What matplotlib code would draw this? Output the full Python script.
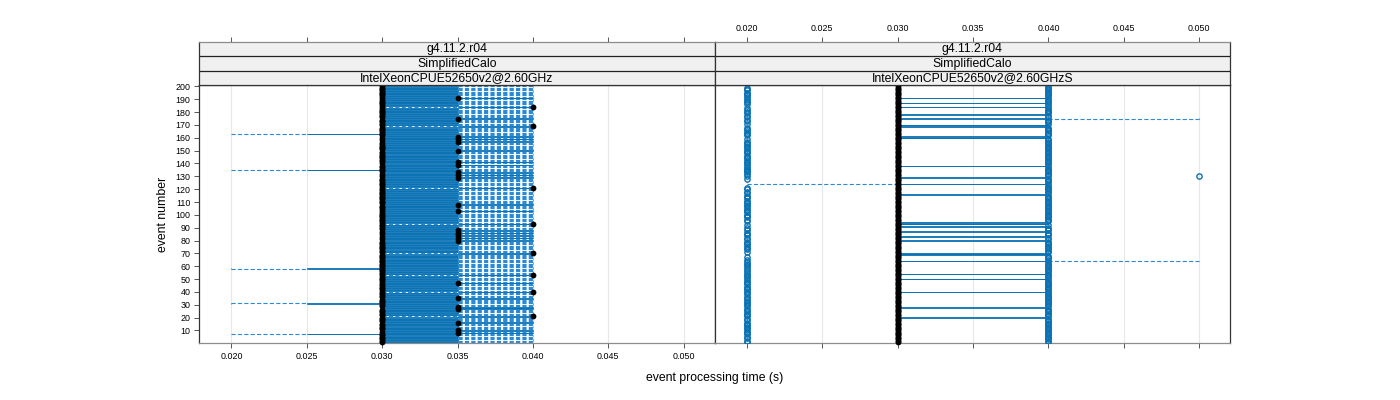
import numpy as np
import matplotlib.pyplot as plt
from matplotlib.collections import LineCollection

plt.rcParams['font.family'] = ['Liberation Sans', 'DejaVu Sans']
plt.rcParams['lines.scale_dashes'] = False

# ---- data ----
events = np.arange(1, 201)
xticks = [0.020, 0.025, 0.030, 0.035, 0.040, 0.045, 0.050]
yticks = list(range(10, 201, 10))
strip_left = ['g4.11.2.r04', 'SimplifiedCalo', 'IntelXeonCPUE52650v2@2.60GHz']
strip_right = ['g4.11.2.r04', 'SimplifiedCalo', 'IntelXeonCPUE52650v2@2.60GHzS']

# left panel: most events have median 0.030, box 0.030-0.035, whisker to 0.040
left_med_035 = [191, 175, 161, 159, 157, 150, 141, 139, 133, 131, 129, 108, 103,
                88, 86, 84, 82, 80, 47, 35, 28, 27, 16, 10, 8]
left_med_040 = [184, 169, 121, 93, 70, 53, 40, 21]
left_low_tail = [163, 135, 58, 31, 7]

# right panel: most events median 0.030 with outliers at 0.020 and 0.040
right_box = [191, 187, 184, 178, 175, 170, 169, 161, 160, 138, 129, 124, 116,
             94, 93, 91, 87, 83, 80, 70, 69, 64, 54, 50, 40, 28, 20]
right_no_020 = [200, 196, 185, 181, 172, 166, 158, 152, 147, 142, 131, 127, 126,
                125, 123, 122, 119, 112, 106, 101, 97, 89, 75, 72, 68, 66, 60,
                57, 45, 37, 33, 25, 17, 11, 6, 3]
right_whisk_low = [124]
right_whisk_high = [175, 64]
right_out_050 = [130]

BLUE = '#0a72b4'
LIGHT = '#2a8ad4'


def left_stats():
    lw = np.full(200, 0.030); q1 = np.full(200, 0.030); med = np.full(200, 0.030)
    q3 = np.full(200, 0.035); uw = np.full(200, 0.040)
    for e in left_med_035:
        med[e - 1] = 0.035; q3[e - 1] = 0.040
    for e in left_med_040:
        q1[e - 1] = 0.035; med[e - 1] = 0.040; q3[e - 1] = 0.040
    for e in left_low_tail:
        lw[e - 1] = 0.020; q1[e - 1] = 0.025
    return lw, q1, med, q3, uw, [], []


def right_stats():
    lw = np.full(200, 0.030); q1 = np.full(200, 0.030); med = np.full(200, 0.030)
    q3 = np.full(200, 0.030); uw = np.full(200, 0.030)
    ox, oy = [], []
    for e in events:
        if e in right_box:
            q3[e - 1] = 0.040; uw[e - 1] = 0.040
        else:
            ox.append(0.040); oy.append(e)
            if e not in right_no_020:
                ox.append(0.020); oy.append(e)
    for e in right_whisk_low:
        lw[e - 1] = 0.020
    for e in right_whisk_high:
        uw[e - 1] = 0.050
    for e in right_out_050:
        ox.append(0.050); oy.append(e)
    return lw, q1, med, q3, uw, ox, oy


def draw_panel(ax, stats):
    lw, q1, med, q3, uw, ox, oy = stats
    h = 0.2
    ax.vlines(xticks, 0, 201, color='#e8e8e8', lw=0.8, zorder=0)
    box, whisk, staple = [], [], []
    for y, a, b, c, d in zip(events, lw, q1, q3, uw):
        box += [[(b, y - h), (c, y - h)], [(b, y + h), (c, y + h)],
                [(b, y - h), (b, y + h)], [(c, y - h), (c, y + h)]]
        if a < b:
            whisk.append([(a, y), (b, y)])
            staple.append([(a, y - h), (a, y + h)])
        if d > c:
            whisk.append([(c, y), (d, y)])
            staple.append([(d, y - h), (d, y + h)])
    ax.add_collection(LineCollection(box, colors=BLUE, linewidths=0.65, zorder=2))
    ax.add_collection(LineCollection(whisk, colors=LIGHT, linewidths=0.8,
                                     linestyles=[(0, (3.0, 1.6))], zorder=2))
    ax.add_collection(LineCollection(staple, colors=LIGHT, linewidths=0.6, zorder=2))
    ax.plot(med, events, 'o', color='black', ms=4.2, mew=0, zorder=4, clip_on=False)
    if ox:
        ax.plot(ox, oy, 'o', mfc='none', mec=BLUE, ms=3.8, mew=1.0, zorder=3)
    ax.set_xlim(0.01785, 0.05204)
    ax.set_ylim(0, 201)


fig = plt.figure(figsize=(14, 4), dpi=100)
L = 199 / 1400
W = 515.5 / 1400
B = 1 - 343.2 / 400
H = 258 / 400
SB = 1 - 85.3 / 400
SH = 43.6 / 400

ax1 = fig.add_axes([L, B, W, H])
ax2 = fig.add_axes([L + W, B, W, H])
s1 = fig.add_axes([L, SB, W, SH])
s2 = fig.add_axes([L + W, SB, W, SH])

draw_panel(ax1, left_stats())
draw_panel(ax2, right_stats())

tick_kw = dict(direction='out', length=3.6, width=0.7, color='#555555',
               labelsize=6.4, pad=2.5)

for ax in (ax1, ax2):
    ax.set_xticks(xticks)
    ax.set_xticklabels(['%.3f' % v for v in xticks])
    for sp in ax.spines.values():
        sp.set_color('#333333')
        sp.set_linewidth(0.9)
    ax.spines['bottom'].set_color('#8c8c8c')
    ax.tick_params(axis='x', **tick_kw)
ax2.tick_params(axis='x', labelbottom=False)
ax1.set_yticks(yticks)
ax1.tick_params(axis='y', **tick_kw)
ax2.set_yticks([])

for s, labels, show in ((s1, strip_left, False), (s2, strip_right, True)):
    s.set_xlim(0.01785, 0.05204)
    s.set_ylim(0, 3)
    s.set_facecolor('#f0f0f0')
    s.set_yticks([])
    s.set_xticks(xticks)
    s.set_xticklabels(['%.3f' % v for v in xticks])
    s.tick_params(axis='x', bottom=False, labelbottom=False, top=True,
                  labeltop=show, **tick_kw)
    s.hlines([1, 2], 0.01785, 0.05204, color='#222222', lw=0.9)
    for sp in s.spines.values():
        sp.set_color('#333333')
        sp.set_linewidth(0.9)
    s.spines['top'].set_color('#8c8c8c')
    for k, t in enumerate(labels[::-1]):
        s.text((0.01785 + 0.05204) / 2, k + 0.5, t, ha='center', va='center',
               fontsize=8.8)

fig.text(714.5 / 1400, 1 - 378 / 400, 'event processing time (s)',
         ha='center', va='center', fontsize=8.8)
fig.text(163 / 1400, 1 - 214 / 400, 'event number', rotation=90,
         ha='center', va='center', fontsize=8.8)

fig.savefig('out.png', dpi=100)
